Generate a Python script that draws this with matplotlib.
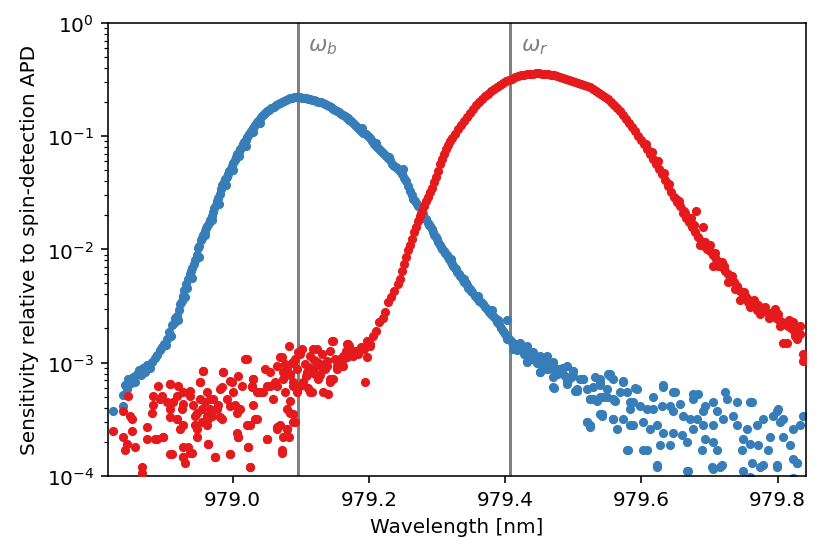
import numpy as np
import matplotlib
matplotlib.use("Agg")
import matplotlib.pyplot as plt

# marker lines
omega_b = 979.0955
omega_r = 979.4075

# blue: main band
blue_band_wl = [
    978.824, 978.839, 978.839, 978.842, 978.845, 978.847, 978.851, 978.854, 978.857, 978.860,
    978.862, 978.866, 978.869, 978.872, 978.875, 978.879, 978.882, 978.886, 978.889, 978.893,
    978.896, 978.899, 978.902, 978.904, 978.907, 978.909, 978.911, 978.914, 978.916, 978.919,
    978.921, 978.923, 978.925, 978.927, 978.929, 978.931, 978.933, 978.935, 978.937, 978.939,
    978.941, 978.943, 978.945, 978.947, 978.949, 978.951, 978.953, 978.955, 978.957, 978.959,
    978.961, 978.963, 978.965, 978.967, 978.969, 978.971, 978.973, 978.975, 978.977, 978.979,
    978.981, 978.983, 978.985, 978.987, 978.989, 978.991, 978.993, 978.995, 978.997, 978.999,
    979.001, 979.003, 979.005, 979.007, 979.009, 979.011, 979.013, 979.015, 979.017, 979.019,
    979.021, 979.024, 979.027, 979.030, 979.033, 979.036, 979.039, 979.042, 979.045, 979.048,
    979.051, 979.054, 979.057, 979.060, 979.063, 979.066, 979.069, 979.072, 979.075, 979.078,
    979.081, 979.084, 979.087, 979.090, 979.093, 979.096, 979.099, 979.102, 979.105, 979.108,
    979.111, 979.114, 979.117, 979.120, 979.123, 979.126, 979.129, 979.132, 979.135, 979.138,
    979.141, 979.144, 979.147, 979.150, 979.153, 979.156, 979.159, 979.162, 979.165, 979.168,
    979.171, 979.174, 979.177, 979.180, 979.183, 979.186, 979.189, 979.192, 979.195, 979.198,
    979.201, 979.204, 979.207, 979.210, 979.213, 979.216, 979.219, 979.222, 979.225, 979.228,
    979.231, 979.234, 979.237, 979.240, 979.243, 979.246, 979.249, 979.252, 979.255, 979.258,
    979.261, 979.263, 979.265, 979.267, 979.270, 979.272, 979.275, 979.277, 979.279, 979.281,
    979.284, 979.286, 979.288, 979.290, 979.292, 979.294, 979.296, 979.298, 979.300, 979.302,
    979.304, 979.306, 979.308, 979.310, 979.312, 979.314, 979.316, 979.318, 979.320, 979.322,
    979.324, 979.326, 979.328, 979.330, 979.332, 979.334, 979.336, 979.338, 979.340, 979.342,
    979.344, 979.346, 979.348, 979.350, 979.352, 979.355, 979.358, 979.361, 979.364, 979.367,
    979.370, 979.373, 979.376, 979.379, 979.382, 979.385, 979.388, 979.391, 979.394, 979.397,
    979.400, 979.402, 979.403, 979.406, 979.409, 979.412, 979.415, 979.418, 979.421, 979.424,
    979.427, 979.430, 979.433, 979.436, 979.439, 979.442, 979.445, 979.448, 979.451, 979.454,
    979.457, 979.460, 979.463, 979.466, 979.473, 979.480, 979.488, 979.495, 979.476, 979.485,
]
blue_band_sens = [
    3.7e-4, 4.1e-4, 5.2e-4, 6.3e-4, 5.8e-4, 7.2e-4, 6.6e-4, 7.4e-4, 6.8e-4, 7.9e-4,
    8.6e-4, 7.7e-4, 9.0e-4, 8.2e-4, 9.6e-4, 9.0e-4, 1.02e-3, 1.10e-3, 1.17e-3, 1.28e-3,
    1.36e-3, 1.45e-3, 1.42e-3, 1.60e-3, 1.85e-3, 1.70e-3, 2.15e-3, 2.25e-3, 2.5e-3, 2.6e-3,
    2.9e-3, 3.3e-3, 3.5e-3, 3.9e-3, 4.4e-3, 4.9e-3, 4.6e-3, 5.5e-3, 6.0e-3, 6.5e-3,
    6.8e-3, 7.4e-3, 8.0e-3, 9.0e-3, 1.02e-2, 1.08e-2, 1.20e-2, 1.26e-2, 1.33e-2, 1.45e-2,
    1.55e-2, 1.62e-2, 1.72e-2, 1.80e-2, 1.98e-2, 2.15e-2, 2.3e-2, 2.45e-2, 2.65e-2, 2.85e-2,
    3.1e-2, 3.4e-2, 3.7e-2, 3.9e-2, 4.2e-2, 4.4e-2, 4.65e-2, 4.9e-2, 5.15e-2, 5.4e-2,
    5.8e-2, 6.1e-2, 6.5e-2, 6.9e-2, 7.3e-2, 7.7e-2, 8.1e-2, 8.5e-2, 8.9e-2, 9.3e-2,
    0.098, 0.104, 0.111, 0.119, 0.126, 0.134, 0.140, 0.147, 0.154, 0.160,
    0.167, 0.172, 0.178, 0.183, 0.188, 0.192, 0.196, 0.201, 0.205, 0.209,
    0.213, 0.216, 0.219, 0.221, 0.223, 0.222, 0.221, 0.219, 0.217, 0.216,
    0.214, 0.212, 0.211, 0.209, 0.205, 0.202, 0.199, 0.196, 0.192, 0.188,
    0.184, 0.180, 0.175, 0.171, 0.166, 0.162, 0.158, 0.154, 0.151, 0.145,
    0.140, 0.135, 0.130, 0.126, 0.121, 0.116, 0.111, 0.107, 0.104, 0.100,
    0.0955, 0.091, 0.086, 0.082, 0.079, 0.076, 0.073, 0.070, 0.067, 0.064,
    0.061, 0.057, 0.054, 0.053, 0.051, 0.049, 0.046, 0.043, 0.040, 0.036,
    0.033, 0.030, 0.028, 0.027, 0.025, 0.024, 0.0235, 0.021, 0.0205, 0.019,
    0.0185, 0.017, 0.0165, 0.016, 0.015, 0.0142, 0.0135, 0.0128, 0.0124, 0.0117,
    0.0110, 0.0106, 0.0101, 0.0097, 0.0093, 0.0089, 0.0086, 0.0082, 0.0078, 0.0075,
    0.0072, 0.0069, 0.0067, 0.0063, 0.0060, 0.0058, 0.0056, 0.0054, 0.0052, 0.0050,
    0.0048, 0.0046, 0.0045, 0.0043, 0.0042, 0.0039, 0.0037, 0.0035, 0.0034, 0.0033,
    0.0031, 0.0030, 0.0028, 0.0027, 0.0026, 0.0025, 0.0023, 0.0022, 0.0020, 0.0019,
    0.0018, 0.0024, 0.0017, 0.0016, 0.00155, 0.0015, 0.00147, 0.0013, 0.00139, 0.00133,
    0.0012, 0.00128, 0.00118, 0.00122, 0.00108, 0.00115, 0.00105, 0.00112, 0.00098, 0.00104,
    0.00093, 0.00099, 0.00088, 0.00090, 0.00085, 0.00081, 0.00076, 0.00073, 0.00079, 0.00090,
]

# blue: extra points that widen the band
blue_wide_wl = [
    978.920, 978.930, 978.940, 978.950, 978.960, 978.970, 978.980, 978.990, 979.000, 979.010,
    979.020, 979.030, 979.040, 979.170, 979.190, 979.210, 979.230, 979.250, 979.320, 979.340,
    979.360, 979.380, 979.390,
]
blue_wide_sens = [
    2.4e-3, 3.8e-3, 5.6e-3, 8.5e-3, 1.35e-2, 1.8e-2, 2.5e-2, 3.7e-2, 5.0e-2, 6.7e-2,
    8.2e-2, 0.108, 0.130, 0.146, 0.118, 0.087, 0.066, 0.051, 0.0082, 0.0055,
    0.0039, 0.0029, 0.0024,
]

# blue: noisy tail on the red side
blue_tail_wl = [
    979.432, 979.451, 979.470, 979.491, 979.502, 979.422, 979.436, 979.451, 979.447, 979.456,
    979.470, 979.481, 979.499, 979.510, 979.520, 979.524, 979.539, 979.539, 979.554, 979.549,
    979.558, 979.569, 979.573, 979.539, 979.520, 979.524, 979.558, 979.583, 979.593, 979.564,
    979.583, 979.579, 979.602, 979.623, 979.617, 979.632, 979.646, 979.676, 979.667, 979.705,
    979.715, 979.759, 979.799, 979.803, 979.822, 979.837, 979.832, 979.822, 979.828, 979.774,
    979.799, 979.499, 979.514, 979.505, 979.532, 979.539, 979.554, 979.558, 979.573, 979.529,
    979.543, 979.560, 979.579, 979.591, 979.587, 979.598, 979.608, 979.583, 979.542, 979.573,
    979.588, 979.603, 979.617, 979.632, 979.649, 979.630, 979.642, 979.656, 979.646, 979.661,
    979.683, 979.676, 979.693, 979.705, 979.722, 979.725, 979.711, 979.690, 979.681, 979.671,
    979.623, 979.612, 979.632, 979.646, 979.660, 979.676, 979.690, 979.705, 979.720, 979.734,
    979.740, 979.755, 979.769, 979.778, 979.793, 979.740, 979.762, 979.693, 979.705, 979.711,
    979.689, 979.667, 979.642, 979.627, 979.608, 979.580, 979.749, 979.759, 979.771, 979.789,
    979.808, 979.818, 979.786, 979.747, 979.778, 979.762, 979.799, 979.828, 979.800, 979.808,
    979.623, 979.669, 979.704, 979.718, 979.749, 979.759, 979.822, 979.463, 979.476, 979.485,
    979.403, 979.412, 979.422, 979.432, 979.432, 979.441, 979.447, 979.451, 979.461, 979.461,
    979.470, 979.470, 979.472, 979.480, 979.491, 979.491, 979.499, 979.505, 979.514, 979.524,
    979.529, 979.535, 979.539, 979.542, 979.549, 979.551, 979.558, 979.561, 979.520, 979.524,
]
blue_tail_sens = [
    1.01e-3, 8.3e-4, 6.1e-4, 6.8e-4, 5.6e-4, 1.4e-3, 1.25e-3, 1.15e-3, 1.0e-3, 8.8e-4,
    9.3e-4, 8.8e-4, 7.6e-4, 7.2e-4, 5.8e-4, 4.8e-4, 6.8e-4, 5.0e-4, 7.6e-4, 5.8e-4,
    4.8e-4, 5.5e-4, 6.8e-4, 3.5e-4, 3.0e-4, 2.7e-4, 3.2e-4, 4.5e-4, 5.8e-4, 2.6e-4,
    2.8e-4, 1.7e-4, 1.7e-4, 1.2e-4, 3.9e-4, 6.3e-4, 5.5e-4, 5.3e-4, 1.1e-4, 1.15e-4,
    1.2e-4, 4.5e-4, 3.7e-4, 3.0e-4, 2.6e-4, 3.4e-4, 2.8e-4, 1.4e-4, 1.3e-4, 1.2e-4,
    1.2e-4, 8.5e-4, 7.2e-4, 5.8e-4, 7.4e-4, 6.3e-4, 7.9e-4, 7.2e-4, 6.9e-4, 4.8e-4,
    5.0e-4, 4.7e-4, 5.5e-4, 5.9e-4, 4.5e-4, 4.1e-4, 3.9e-4, 3.9e-4, 3.5e-4, 3.2e-4,
    2.8e-4, 3.0e-4, 5.0e-4, 6.1e-4, 5.5e-4, 4.1e-4, 4.1e-4, 4.3e-4, 3.7e-4, 3.4e-4,
    5.3e-4, 4.8e-4, 4.1e-4, 4.5e-4, 5.5e-4, 4.8e-4, 3.7e-4, 3.7e-4, 3.2e-4, 3.2e-4,
    2.8e-4, 2.6e-4, 2.4e-4, 2.4e-4, 2.3e-4, 2.6e-4, 2.8e-4, 2.8e-4, 3.2e-4, 3.4e-4,
    2.8e-4, 2.6e-4, 2.8e-4, 3.2e-4, 3.4e-4, 4.5e-4, 4.5e-4, 2.1e-4, 2.0e-4, 1.7e-4,
    1.7e-4, 2.0e-4, 1.85e-4, 1.85e-4, 1.7e-4, 1.7e-4, 2.1e-4, 1.9e-4, 1.85e-4, 2.2e-4,
    2.2e-4, 1.85e-4, 1.7e-4, 1.7e-4, 1.25e-4, 1.3e-4, 1.25e-4, 1.3e-4, 3.9e-4, 3.2e-4,
    1.25e-4, 1.1e-4, 1.2e-4, 1.25e-4, 1.1e-4, 9.8e-5, 9.5e-5, 1.0e-3, 7.9e-4, 9.0e-4,
    1.6e-3, 1.32e-3, 1.5e-3, 1.4e-3, 1.03e-3, 1.25e-3, 1.01e-3, 8.3e-4, 1.15e-3, 8.8e-4,
    1.01e-3, 7.4e-4, 5.9e-4, 8.8e-4, 9.3e-4, 6.4e-4, 8.5e-4, 5.6e-4, 7.2e-4, 4.8e-4,
    6.1e-4, 4.6e-4, 7.2e-4, 3.4e-4, 5.0e-4, 7.9e-4, 3.2e-4, 4.6e-4, 3.0e-4, 2.8e-4,
]

# red: noisy floor on the blue side
red_floor_wl = [
    978.824, 978.839, 978.846, 978.849, 978.852, 978.839, 978.842, 978.845, 978.852, 978.857,
    978.867, 978.874, 978.874, 978.882, 978.883, 978.883, 978.886, 978.891, 978.896, 978.898,
    978.904, 978.908, 978.908, 978.911, 978.912, 978.918, 978.920, 978.923, 978.926, 978.927,
    978.927, 978.927, 978.930, 978.934, 978.937, 978.940, 978.942, 978.945, 978.948, 978.948,
    978.952, 978.952, 978.955, 978.956, 978.959, 978.962, 978.962, 978.964, 978.967, 978.970,
    978.971, 978.974, 978.978, 978.981, 978.984, 978.986, 978.992, 978.996, 978.999, 979.000,
    979.003, 979.006, 979.008, 979.011, 979.014, 979.018, 979.021, 979.023, 979.025, 979.028,
    979.030, 979.030, 979.033, 979.036, 979.045, 979.048, 979.050, 979.055, 979.059, 979.062,
    979.065, 979.070, 979.073, 979.073, 979.074, 979.077, 979.080, 979.082, 979.084, 979.087,
    979.089, 979.092, 979.094, 979.096, 979.099, 979.103, 979.109, 979.117, 979.124, 979.126,
    979.128, 979.133, 979.140, 979.146, 979.148, 979.153, 979.077, 979.084, 979.092, 979.082,
    979.118, 979.128, 979.135, 979.143, 979.153, 979.162, 979.170, 979.177, 979.187, 979.194,
    979.197, 979.202, 978.867, 979.107, 979.113, 979.106, 979.114, 979.121, 979.131, 979.139,
    979.143, 979.150, 979.102, 979.111, 979.120,
]
red_floor_sens = [
    2.5e-4, 3.7e-4, 5.1e-4, 3.4e-4, 3.2e-4, 2.2e-4, 1.7e-4, 1.9e-4, 2.5e-4, 1.8e-4,
    1.2e-4, 2.7e-4, 2.1e-4, 3.6e-4, 5.1e-4, 4.2e-4, 2.1e-4, 6.2e-4, 5.1e-4, 2.2e-4,
    4.5e-4, 6.4e-4, 3.3e-4, 1.55e-4, 4.5e-4, 3.2e-4, 6.2e-4, 2.6e-4, 3.9e-4, 5.5e-4,
    1.8e-4, 1.45e-4, 1.3e-4, 1.8e-4, 5.1e-4, 1.6e-4, 4.2e-4, 2.8e-4, 3.6e-4, 2.2e-4,
    6.8e-4, 4.8e-4, 3.0e-4, 8.5e-4, 4.5e-4, 5.5e-4, 3.4e-4, 1.9e-4, 3.9e-4, 3.4e-4,
    4.8e-4, 1.45e-4, 4.2e-4, 5.8e-4, 3.2e-4, 8.3e-4, 4.8e-4, 1.55e-4, 6.8e-4, 5.5e-4,
    4.2e-4, 2.4e-4, 2.2e-4, 3.9e-4, 6.2e-4, 1.08e-3, 2.8e-4, 1.8e-4, 1.2e-4, 6.2e-4,
    7.2e-4, 4.2e-4, 3.2e-4, 5.5e-4, 5.5e-4, 8.8e-4, 2.1e-4, 6.2e-4, 4.8e-4, 6.8e-4,
    2.6e-4, 2.8e-4, 1.12e-3, 1.6e-4, 8.3e-4, 5.5e-4, 2.6e-4, 2.2e-4, 3.6e-4, 1.0e-3,
    6.8e-4, 3.0e-4, 8.8e-4, 1.23e-3, 6.2e-4, 6.8e-4, 8.3e-4, 5.5e-4, 1.32e-3, 7.2e-4,
    9.3e-4, 8.8e-4, 5.3e-4, 1.55e-3, 7.2e-4, 8.8e-4, 9.7e-4, 7.9e-4, 1.08e-3, 1.4e-3,
    1.32e-3, 9.7e-4, 8.8e-4, 7.2e-4, 9.3e-4, 1.08e-3, 1.46e-3, 1.15e-3, 1.32e-3, 6.8e-4,
    1.12e-3, 1.4e-3, 1.05e-4, 7.6e-4, 9.0e-4, 9.7e-4, 1.15e-3, 7.9e-4, 1.19e-3, 1.04e-3,
    1.26e-3, 1.08e-3, 1.32e-3, 6.0e-4, 1.05e-3,
]

# red: more floor points (978.89 - 979.17 nm)
red_floor2_wl = [
    978.957, 978.986, 979.008, 979.021, 978.996, 978.952, 978.908, 978.937, 978.918, 978.967,
    978.984, 979.030, 979.028, 979.040, 979.055, 979.065, 979.069, 979.050, 979.065, 979.074,
    979.080, 979.084, 979.089, 979.089, 979.084, 979.080, 979.089, 979.094, 979.099, 979.109,
    979.118, 979.124, 979.128, 979.139, 979.143, 979.148, 979.153, 979.162, 979.168, 979.168,
    979.114, 979.133, 978.893, 978.927, 978.945, 978.964, 978.918, 978.927, 978.948, 978.962,
    978.981, 979.006, 979.025, 979.036, 979.008, 979.050, 979.065, 979.074, 979.080, 979.089,
    978.889, 978.898, 978.908, 978.927, 978.937, 978.964, 978.974, 978.996, 979.023, 979.025,
    979.072, 978.996, 978.977, 978.955, 978.908,
]
red_floor2_sens = [
    8.5e-4, 8.3e-4, 7.6e-4, 1.08e-3, 6.9e-4, 6.8e-4, 6.4e-4, 5.6e-4, 5.1e-4, 4.8e-4,
    6.1e-4, 7.2e-4, 6.1e-4, 5.5e-4, 8.3e-4, 9.3e-4, 1.12e-3, 6.2e-4, 6.2e-4, 7.2e-4,
    8.8e-4, 7.7e-4, 1.01e-3, 6.2e-4, 4.6e-4, 3.9e-4, 3.5e-4, 5.5e-4, 1.19e-3, 7.7e-4,
    8.8e-4, 1.01e-3, 7.7e-4, 9.3e-4, 6.8e-4, 1.55e-3, 1.03e-3, 9.3e-4, 1.46e-3, 1.12e-3,
    5.5e-4, 5.5e-4, 4.8e-4, 4.3e-4, 3.4e-4, 3.2e-4, 3.2e-4, 2.8e-4, 2.6e-4, 2.8e-4,
    3.3e-4, 3.6e-4, 2.8e-4, 3.2e-4, 2.2e-4, 2.1e-4, 2.7e-4, 2.2e-4, 2.6e-4, 3.0e-4,
    2.1e-4, 2.2e-4, 1.55e-4, 1.45e-4, 1.6e-4, 1.9e-4, 1.45e-4, 1.55e-4, 1.8e-4, 1.2e-4,
    1.7e-4, 4.1e-4, 3.9e-4, 3.9e-4, 3.9e-4,
]

# red: main band
red_band_wl = [
    979.158, 979.162, 979.167, 979.171, 979.175, 979.180, 979.184, 979.189, 979.193, 979.197,
    979.202, 979.206, 979.211, 979.215, 979.220, 979.224, 979.228, 979.233, 979.237, 979.242,
    979.246, 979.249, 979.252, 979.255, 979.258, 979.260, 979.263, 979.266, 979.269, 979.272,
    979.275, 979.278, 979.281, 979.284, 979.287, 979.290, 979.293, 979.296, 979.298, 979.301,
    979.304, 979.307, 979.310, 979.313, 979.316, 979.319, 979.322, 979.326, 979.331, 979.335,
    979.340, 979.344, 979.348, 979.353, 979.357, 979.362, 979.366, 979.371, 979.375, 979.379,
    979.384, 979.388, 979.392, 979.397, 979.401, 979.406, 979.410, 979.415, 979.419, 979.423,
    979.428, 979.432, 979.436, 979.441, 979.445, 979.450, 979.454, 979.458, 979.463, 979.467,
    979.472, 979.476, 979.480, 979.485, 979.489, 979.494, 979.498, 979.502, 979.507, 979.511,
    979.516, 979.520, 979.524, 979.529, 979.533, 979.538, 979.542, 979.546, 979.551, 979.555,
    979.560, 979.564, 979.569, 979.573, 979.577, 979.582, 979.586, 979.591, 979.595, 979.599,
    979.604, 979.608, 979.613, 979.617, 979.621, 979.626, 979.630, 979.635, 979.639, 979.644,
    979.648, 979.652, 979.657, 979.661, 979.666, 979.670, 979.674, 979.679, 979.683, 979.688,
    979.692, 979.696, 979.701, 979.705, 979.710, 979.714, 979.718, 979.723, 979.727, 979.731,
    979.736, 979.740, 979.745, 979.749, 979.753, 979.758, 979.762, 979.767, 979.771, 979.775,
    979.780, 979.784, 979.789, 979.793, 979.797, 979.802, 979.806, 979.811, 979.815, 979.819,
    979.824, 979.828, 979.833,
]
red_band_sens = [
    1.08e-3, 1.15e-3, 1.26e-3, 1.39e-3, 1.18e-3, 1.26e-3, 1.19e-3, 1.38e-3, 1.32e-3, 1.55e-3,
    1.45e-3, 1.7e-3, 1.9e-3, 2.3e-3, 2.5e-3, 2.8e-3, 3.4e-3, 3.8e-3, 4.3e-3, 4.9e-3,
    5.5e-3, 6.4e-3, 7.4e-3, 8.6e-3, 9.9e-3, 1.1e-2, 1.24e-2, 1.42e-2, 1.58e-2, 1.78e-2,
    1.97e-2, 2.2e-2, 2.4e-2, 2.65e-2, 2.9e-2, 3.2e-2, 3.5e-2, 3.94e-2, 4.37e-2, 4.94e-2,
    5.68e-2, 6.29e-2, 6.96e-2, 7.71e-2, 8.36e-2, 9.06e-2, 9.6e-2, 0.105, 0.116, 0.126,
    0.136, 0.148, 0.160, 0.174, 0.188, 0.200, 0.213, 0.227, 0.236, 0.250,
    0.260, 0.272, 0.283, 0.295, 0.307, 0.314, 0.320, 0.333, 0.340, 0.347,
    0.347, 0.354, 0.354, 0.354, 0.362, 0.362, 0.354, 0.354, 0.354, 0.347,
    0.347, 0.340, 0.333, 0.326, 0.320, 0.314, 0.307, 0.300, 0.295, 0.289,
    0.283, 0.277, 0.272, 0.261, 0.250, 0.240, 0.231, 0.222, 0.213, 0.200,
    0.188, 0.178, 0.167, 0.154, 0.142, 0.131, 0.120, 0.111, 0.100, 0.093,
    0.085, 0.077, 0.070, 0.063, 0.057, 0.051, 0.046, 0.041, 0.036, 0.032,
    0.029, 0.026, 0.024, 0.021, 0.019, 0.0173, 0.0158, 0.0143, 0.0129, 0.0118,
    0.0107, 0.0101, 0.0097, 0.0089, 0.0082, 0.0076, 0.0070, 0.0065, 0.0060, 0.0055,
    0.0051, 0.0047, 0.0043, 0.0040, 0.0038, 0.0036, 0.0034, 0.0033, 0.0032, 0.0030,
    0.0029, 0.0028, 0.0027, 0.0026, 0.0025, 0.0024, 0.0023, 0.0022, 0.0021, 0.0020,
    0.0019, 0.00186, 0.0018,
]

# red: scattered points around the falling edge
red_extra_wl = [
    979.680, 979.691, 979.686, 979.705, 979.727, 979.745, 979.774, 979.796, 979.808, 979.828,
    979.837, 979.837, 979.814, 979.822, 979.833, 979.650, 979.663, 979.700, 979.718, 979.760,
    979.606, 979.615, 979.624, 979.633, 979.641, 979.655, 979.664, 979.672, 979.677, 979.694,
    979.708, 979.712, 979.721, 979.733, 979.738, 979.751, 979.756, 979.765, 979.770, 979.782,
    979.787, 979.800, 979.804, 979.817, 979.826,
]
red_extra_sens = [
    0.022, 0.0158, 0.011, 0.0072, 0.0052, 0.0036, 0.0027, 0.0030, 0.0015, 0.0016,
    0.0012, 0.00103, 0.0015, 0.0023, 0.0021, 0.028, 0.022, 0.0110, 0.0078, 0.0031,
    0.085, 0.072, 0.060, 0.047, 0.038, 0.027, 0.021, 0.019, 0.0165, 0.0117,
    0.0092, 0.0072, 0.0071, 0.0058, 0.0045, 0.0042, 0.0034, 0.0036, 0.0029, 0.0031,
    0.0025, 0.0027, 0.0021, 0.0024, 0.0017,
]

blue_wl = np.array(blue_band_wl + blue_wide_wl + blue_tail_wl)
blue_sens = np.array(blue_band_sens + blue_wide_sens + blue_tail_sens)
red_wl = np.array(red_floor_wl + red_floor2_wl + red_band_wl + red_extra_wl)
red_sens = np.array(red_floor_sens + red_floor2_sens + red_band_sens + red_extra_sens)

fig = plt.figure(figsize=(5.75, 3.861), dpi=144)
ax = fig.add_axes([0.1304, 0.1426, 0.8426, 0.8142])

ax.axvline(omega_b, color='gray', lw=1.5, zorder=1)
ax.axvline(omega_r, color='gray', lw=1.5, zorder=1)
ax.plot(blue_wl, blue_sens, 'o', color='#377eb8', ms=4.6, mew=0, zorder=2)
ax.plot(red_wl, red_sens, 'o', color='#e41a1c', ms=4.6, mew=0, zorder=3)

ax.text(omega_b + 0.015, 0.63, r'$\omega_b$', color='gray', fontsize=11, va='center')
ax.text(omega_r + 0.015, 0.63, r'$\omega_r$', color='gray', fontsize=11, va='center')

ax.set_yscale('log')
ax.set_ylim(1e-4, 1)
ax.set_xlim(978.817, 979.841)
ax.set_xticks([979.0, 979.2, 979.4, 979.6, 979.8])
ax.set_xlabel('Wavelength [nm]')
ax.set_ylabel('Sensitivity relative to spin-detection APD')

fig.savefig('out.png', dpi=144)
